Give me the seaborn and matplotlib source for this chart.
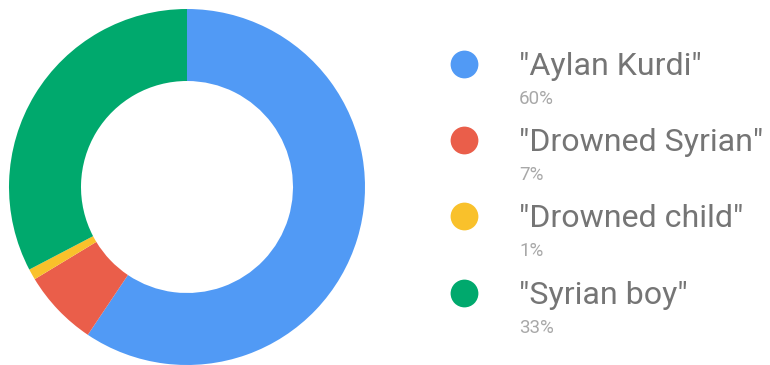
import matplotlib
matplotlib.use("Agg")
import matplotlib.pyplot as plt
import seaborn as sns

# Search term shares
terms = ['"Aylan Kurdi"', '"Drowned Syrian"', '"Drowned child"', '"Syrian boy"']
shares = [60, 7, 1, 33]
share_labels = ["60%", "7%", "1%", "33%"]
colors = ["#519af5", "#ea5e4a", "#f9c12b", "#00a96d"]

sns.set_theme(style="white")
plt.rcParams["font.family"] = ["Roboto", "DejaVu Sans"]

W, H, DPI = 770, 365, 100
fig = plt.figure(figsize=(W / DPI, H / DPI), dpi=DPI, facecolor="white")

# Donut
cx, cy, r = 187, 187, 178
pie_ax = fig.add_axes([(cx - r) / W, (H - cy - r) / H, 2 * r / W, 2 * r / H])
palette = sns.color_palette(colors)
pie_ax.pie(shares, colors=palette, startangle=90, counterclock=False,
           radius=1.0, wedgeprops=dict(width=1 - 106 / 178, linewidth=0))
pie_ax.set_xlim(-1, 1)
pie_ax.set_ylim(-1, 1)
pie_ax.set_aspect("equal")
pie_ax.axis("off")

# Legend drawn in pixel coordinates
leg = fig.add_axes([0, 0, 1, 1])
leg.set_xlim(0, W)
leg.set_ylim(H, 0)
leg.axis("off")
leg.patch.set_alpha(0)

row_y = [64, 140, 216, 293]
for y, term, lab, col in zip(row_y, terms, share_labels, palette):
    leg.scatter([464], [y], s=400, color=col, linewidths=0)
    leg.text(519, y + 11, term, fontsize=23.1, color="#757575", va="baseline", ha="left")
    leg.text(519, y + 40, lab, fontsize=13.5, color="#a8a8a8", va="baseline", ha="left")

fig.savefig("out.png", dpi=DPI, facecolor="white")
